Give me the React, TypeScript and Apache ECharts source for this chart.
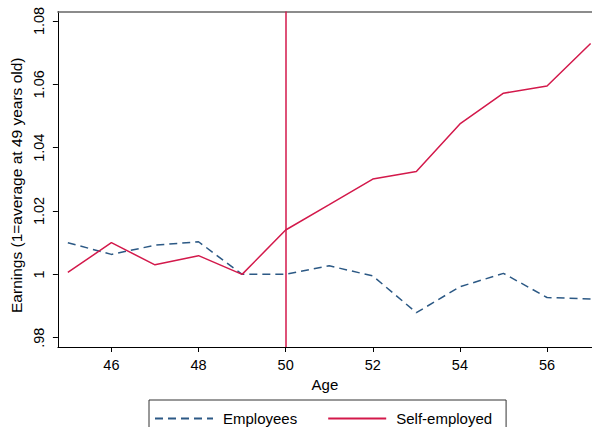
import React, { useEffect, useRef } from "react";
import * as echarts from "echarts";

const ages = [45, 46, 47, 48, 49, 50, 51, 52, 53, 54, 55, 56, 57];
const employees = [1.01, 1.0063, 1.0092, 1.0103, 1.0, 1.0, 1.0027, 0.9995, 0.9879, 0.9961, 1.0003, 0.9927, 0.9922];
const selfEmployed = [1.0006, 1.01, 1.003, 1.0059, 1.0, 1.014, 1.022, 1.0301, 1.0325, 1.0475, 1.0572, 1.0595, 1.0729];
const xTicks = [46, 48, 50, 52, 54, 56];
const yTicks = [0.98, 1.0, 1.02, 1.04, 1.06, 1.08];
const cutoffAge = 50;

const FONT = "'Liberation Sans', Arial, Helvetica, sans-serif";
const BLUE = "#2c5985";
const RED = "#d3194b";

export default function App() {
  const ref = useRef<HTMLDivElement>(null);
  useEffect(() => {
    const chart = echarts.init(ref.current!, null, { renderer: "svg" });
    chart.setOption({
      animation: false,
      backgroundColor: "#fff",
      textStyle: { fontFamily: FONT },
      grid: { left: 55, top: 11.5, right: 0, bottom: 80 },
      legend: {
        left: 149,
        top: 400,
        orient: "horizontal",
        borderColor: "#333",
        borderWidth: 1,
        borderRadius: 0,
        padding: [11, 14, 20, 5],
        itemWidth: 58,
        itemHeight: 14,
        itemGap: 30,
        itemStyle: { opacity: 0, borderWidth: 0 },
        textStyle: { fontSize: 15, color: "#000", fontFamily: FONT, padding: [0, 0, 0, 5] },
        data: ["Employees", "Self-employed"],
      },
      xAxis: [
        {
          type: "value",
          min: 44.772,
          max: 57.032,
          name: "Age",
          nameLocation: "middle",
          nameGap: 30,
          nameTextStyle: { fontSize: 15, color: "#000", fontFamily: FONT },
          axisLine: { show: true, lineStyle: { color: "#000", width: 1 } },
          axisTick: { show: true, length: 5, customValues: xTicks, lineStyle: { color: "#000" } },
          axisLabel: { show: true, customValues: xTicks, fontSize: 14.5, color: "#000", margin: 10, fontFamily: FONT },
          splitLine: { show: false },
        },
        {
          type: "value",
          position: "top",
          min: 44.772,
          max: 57.032,
          axisLine: { show: true, lineStyle: { color: "#666", width: 1.5 } },
          axisTick: { show: false },
          axisLabel: { show: false },
          splitLine: { show: false },
        },
      ],
      yAxis: {
        type: "value",
        min: 0.97706,
        max: 1.083,
        name: "Earnings (1=average at 49 years old)",
        nameLocation: "middle",
        nameGap: 28,
        nameTextStyle: { fontSize: 15.5, color: "#000", fontFamily: FONT, padding: [0, 12, 0, 0] },
        axisLine: { show: true, lineStyle: { color: "#000", width: 1 } },
        axisTick: { show: true, length: 5, customValues: yTicks, lineStyle: { color: "#000" } },
        axisLabel: {
          show: true,
          customValues: yTicks,
          rotate: 90,
          fontSize: 14.5,
          color: "#000",
          margin: 11,
          fontFamily: FONT,
          formatter: (v: number) => {
            if (Math.abs(v - 1) < 1e-9) return "1";
            if (v < 1) return v.toFixed(2).replace(/^0/, "");
            return v.toFixed(2);
          },
        },
        splitLine: { show: false },
      },
      series: [
        {
          name: "Employees",
          type: "line",
          data: ages.map((a, i) => [a, employees[i]]),
          symbol: "none",
          showSymbol: false,
          lineStyle: { color: BLUE, width: 1.5, type: [8, 5] },
          itemStyle: { color: BLUE },
          clip: true,
        },
        {
          name: "Self-employed",
          type: "line",
          data: ages.map((a, i) => [a, selfEmployed[i]]),
          symbol: "none",
          showSymbol: false,
          lineStyle: { color: RED, width: 1.5 },
          itemStyle: { color: RED },
          clip: true,
          markLine: {
            silent: true,
            symbol: "none",
            label: { show: false },
            lineStyle: { color: RED, width: 1.5, type: "solid" },
            data: [{ xAxis: cutoffAge }],
          },
        },
      ],
    });
    return () => chart.dispose();
  }, []);
  return <div ref={ref} style={{ position: "fixed", left: 0, top: 0, width: 592, height: 427 }} />;
}
